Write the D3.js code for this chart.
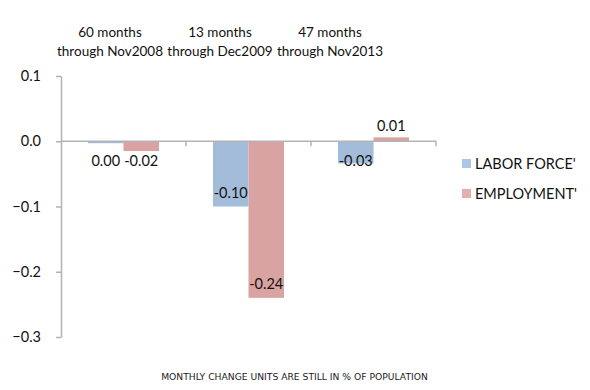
<!DOCTYPE html>
<html><head><meta charset="utf-8">
<script src="https://cdn.jsdelivr.net/npm/d3@7"></script>
<style>body{margin:0;background:#fff}svg{display:block}</style>
</head><body>
<svg id="c" width="590" height="390"></svg>
<script>
const categories = ["60 months", "13 months", "47 months"];
const periods = ["through Nov2008", "through Dec2009", "through Nov2013"];
const seriesNames = ["LABOR FORCE'", "EMPLOYMENT'"];
const laborForce = [-0.003, -0.10, -0.034];
const employment = [-0.015, -0.24, 0.006];
const valueLabels = [["0.00", "-0.10", "-0.03"], ["-0.02", "-0.24", "0.01"]];
const yTicks = [0.1, 0.0, -0.1, -0.2, -0.3];
const note = "MONTHLY CHANGE UNITS ARE STILL IN % OF POPULATION";

const colors = ["#a3bcd9", "#d9a3a1"];
const legendColors = ["#abc6e6", "#e6adae"];
const series = [laborForce, employment];
const font = "Lato, 'Liberation Sans', sans-serif";

const svg = d3.select("#c");
const y = d3.scaleLinear().domain([-0.3, 0.1]).range([337, 76]);
const x0 = d3.scaleBand().domain(categories).range([61, 436]).paddingInner(0).paddingOuter(0);
const x1 = d3.scaleBand().domain(seriesNames).range([0, x0.bandwidth()]).paddingOuter(0.76).paddingInner(0);
const xh = d3.scaleBand().domain(categories).range([55, 385]);

// bars
categories.forEach((c, i) => {
  seriesNames.forEach((s, j) => {
    const v = series[j][i];
    svg.append("rect")
      .attr("x", x0(c) + x1(s))
      .attr("y", Math.min(y(v), y(0)))
      .attr("width", x1.bandwidth())
      .attr("height", Math.abs(y(v) - y(0)))
      .attr("fill", colors[j]);
  });
});

// axes
const yAxis = d3.axisLeft(y).tickValues(yTicks).tickFormat(d3.format(".1f")).tickSize(5).tickSizeOuter(0);
const gy = svg.append("g").attr("transform", "translate(61,0)").call(yAxis);
gy.select(".domain").attr("stroke", "#b3b3b3").attr("stroke-width", 1.5);
gy.selectAll(".tick line").attr("stroke", "#b3b3b3").attr("stroke-width", 1.5);
gy.selectAll(".tick text").attr("font-family", font).attr("font-size", 14.5).attr("fill", "#111").attr("x", -20);

const zx = svg.append("g").attr("transform", `translate(0,${y(0)})`);
zx.append("line").attr("x1", 61).attr("x2", 436).attr("stroke", "#b3b3b3").attr("stroke-width", 1.5);
categories.forEach(c => {
  zx.append("line").attr("x1", x0(c) + x0.bandwidth()).attr("x2", x0(c) + x0.bandwidth())
    .attr("y1", 0).attr("y2", 5).attr("stroke", "#b3b3b3").attr("stroke-width", 1.5);
});

// value labels
categories.forEach((c, i) => {
  seriesNames.forEach((s, j) => {
    const v = series[j][i];
    let cy;
    if (v >= 0) cy = y(v) - 11;
    else cy = Math.max(y(v) - 14, y(0) + 20);
    svg.append("text")
      .attr("x", x0(c) + x1(s) + x1.bandwidth() / 2)
      .attr("y", cy)
      .attr("dy", "0.35em")
      .attr("text-anchor", "middle")
      .attr("font-family", font).attr("font-size", 14.5).attr("fill", "#111")
      .text(valueLabels[j][i]);
  });
});

// header labels
categories.forEach((c, i) => {
  const cx = xh(c) + xh.bandwidth() / 2;
  svg.append("text").attr("x", cx).attr("y", 32).attr("dy", "0.35em").attr("text-anchor", "middle")
    .attr("font-family", font).attr("font-size", 13.5).attr("fill", "#111").text(c);
  svg.append("text").attr("x", cx).attr("y", 51).attr("dy", "0.35em").attr("text-anchor", "middle")
    .attr("font-family", font).attr("font-size", 13.5).attr("fill", "#111").text(periods[i]);
});

// legend
seriesNames.forEach((s, j) => {
  const ly = 164 + j * 30;
  svg.append("rect").attr("x", 462).attr("y", ly - 5).attr("width", 9).attr("height", 9).attr("fill", legendColors[j]);
  svg.append("text").attr("x", 475).attr("y", ly).attr("dy", "0.35em")
    .attr("font-family", font).attr("font-size", 14.5).attr("fill", "#111").text(s);
});

// footnote
svg.append("text").attr("x", 294.5).attr("y", 377).attr("dy", "0.35em").attr("text-anchor", "middle")
  .attr("font-family", "'DejaVu Sans', Verdana, sans-serif").attr("font-size", 9.2).attr("fill", "#222").text(note);
</script>
</body></html>
